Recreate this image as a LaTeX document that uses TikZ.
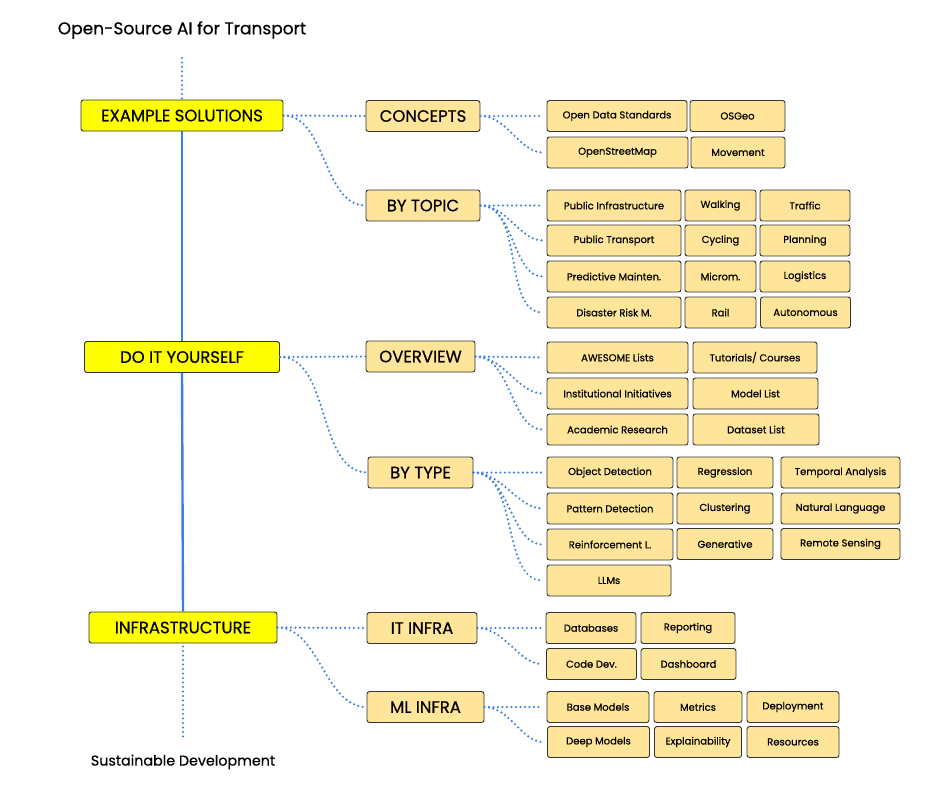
\documentclass[tikz,border=0pt]{standalone}
\usepackage{fontspec}
\setmainfont{Poppins}[FakeBold=0.5]
\usetikzlibrary{positioning}
\definecolor{linkblue}{HTML}{3C7EE6}
\definecolor{mainfill}{HTML}{FFFF00}
\definecolor{subfill}{HTML}{FFE599}
\definecolor{edge}{HTML}{333333}

\begin{document}
\begin{tikzpicture}[
  x=1pt, y=-1pt,
  mainbox/.style={draw=edge, fill=mainfill, rounded corners=2.5pt, line width=0.9pt, align=center, minimum height=31pt, font=\fontsize{16.5}{18}\selectfont, inner sep=0pt},
  subbox/.style={draw=edge, fill=subfill, rounded corners=2.5pt, line width=0.9pt, align=center, minimum height=31pt, font=\fontsize{16.5}{18}\selectfont, inner sep=0pt},
  leaf/.style={draw=edge, fill=subfill, rounded corners=2.5pt, line width=0.9pt, align=center, minimum height=31pt, font=\fontsize{10}{12}\selectfont, inner sep=0pt},
  link/.style={linkblue, line width=2.4pt, line cap=round, dash pattern=on 0pt off 4.5pt},
  curve/.style={link, out=0, in=180, looseness=0.9},
  trunk/.style={linkblue, line width=2.4pt}
]
\useasboundingbox (0,0) rectangle (945,809);

\node (title) at (182,30) {\fontsize{17}{20}\selectfont Open-Source AI for Transport};
\node (goal)  at (183,762) {\fontsize{14.3}{17}\selectfont Sustainable Development};
\coordinate (top) at (182,58);
\coordinate (bottom) at (183,738);

% main column
\node[mainbox, minimum width=202pt] (examples) at (182,115.5) {EXAMPLE SOLUTIONS};
\node[mainbox, minimum width=195pt] (diy)      at (182,357)   {DO IT YOURSELF};
\node[mainbox, minimum width=188pt] (infra)    at (183,627.5) {INFRASTRUCTURE};

\draw[link]  (top) -- (examples.north);
\draw[trunk] (examples.south) -- (diy.north);
\draw[trunk] (diy.south) -- (infra.north);
\draw[link]  (infra.south) ++(0,3) -- (bottom);

% second level
\node[subbox, minimum width=114pt] (concepts) at (423,116)   {CONCEPTS};
\node[subbox, minimum width=114pt] (bytopic)  at (423,205.5) {BY TOPIC};
\node[subbox, minimum width=109pt] (overview) at (420.5,356.5) {OVERVIEW};
\node[subbox, minimum width=105pt] (bytype)   at (420.5,472.5) {BY TYPE};
\node[subbox, minimum width=110pt] (itinfra)  at (422,628)   {IT INFRA};
\node[subbox, minimum width=117pt] (mlinfra)  at (425.5,707) {ML INFRA};

\draw[link]  (examples.east) -- (concepts.west);
\draw[curve] (examples.east) to (bytopic.west);
\draw[link]  (diy.east) -- (overview.west);
\draw[curve] (diy.east) to (bytype.west);
\draw[link]  (infra.east) -- (itinfra.west);
\draw[curve] (infra.east) to (mlinfra.west);

% concepts
\node[leaf, minimum width=140pt] (ods)  at (617,116) {Open Data Standards};
\node[leaf, minimum width=95pt]  (osgeo) at (737.5,116) {OSGeo};
\node[leaf, minimum width=141pt] (osm)  at (617.5,152.5) {OpenStreetMap};
\node[leaf, minimum width=94pt]  (move) at (738,152.5) {Movement};

% by topic
\node[leaf, minimum width=134pt] (pubinfra) at (614,205.5) {Public Infrastructure};
\node[leaf, minimum width=71pt]  (walk)     at (720.5,205.5) {Walking};
\node[leaf, minimum width=90pt]  (traffic)  at (805,205.5) {Traffic};
\node[leaf, minimum width=134pt] (pubtrans) at (614,240.5) {Public Transport};
\node[leaf, minimum width=71pt]  (cycle)    at (720.5,240.5) {Cycling};
\node[leaf, minimum width=90pt]  (plan)     at (805,240.5) {Planning};
\node[leaf, minimum width=134pt] (predict)  at (614,276.5) {Predictive Mainten.};
\node[leaf, minimum width=71pt]  (microm)   at (720.5,276.5) {Microm.};
\node[leaf, minimum width=90pt]  (logist)   at (805,276.5) {Logistics};
\node[leaf, minimum width=134pt] (disaster) at (614,312.5) {Disaster Risk M.};
\node[leaf, minimum width=71pt]  (rail)     at (720.5,312.5) {Rail};
\node[leaf, minimum width=90pt]  (auto)     at (805.5,312.5) {Autonomous};

% overview
\node[leaf, minimum width=141pt] (awesome)  at (617.5,357.5) {AWESOME Lists};
\node[leaf, minimum width=124pt] (tutor)    at (755,357.5) {Tutorials/ Courses};
\node[leaf, minimum width=141pt] (instit)   at (617.5,393.5) {Institutional Initiatives};
\node[leaf, minimum width=125pt] (models)   at (755.5,393.5) {Model List};
\node[leaf, minimum width=141pt] (academic) at (617.5,429.5) {Academic Research};
\node[leaf, minimum width=126pt] (datasets) at (756,429.5) {Dataset List};

% by type
\node[leaf, minimum width=126pt] (objdet)   at (610,472.5) {Object Detection};
\node[leaf, minimum width=96pt]  (regress)  at (725,472.5) {Regression};
\node[leaf, minimum width=119pt] (temporal) at (840.5,472.5) {Temporal Analysis};
\node[leaf, minimum width=126pt] (pattern)  at (610,508.5) {Pattern Detection};
\node[leaf, minimum width=96pt]  (cluster)  at (725,508.5) {Clustering};
\node[leaf, minimum width=119pt] (natlang)  at (840.5,508.5) {Natural Language};
\node[leaf, minimum width=126pt] (reinf)    at (610,544.5) {Reinforcement L.};
\node[leaf, minimum width=96pt]  (generat)  at (725,544) {Generative};
\node[leaf, minimum width=119pt] (remote)   at (840.5,544) {Remote Sensing};
\node[leaf, minimum width=124pt] (llms)     at (609,580.5) {LLMs};

% it infra
\node[leaf, minimum width=90pt] (dbs)     at (591,628) {Databases};
\node[leaf, minimum width=94pt] (report)  at (688,628) {Reporting};
\node[leaf, minimum width=90pt] (codedev) at (591.5,664) {Code Dev.};
\node[leaf, minimum width=95pt] (dash)    at (688.5,664) {Dashboard};

% ml infra
\node[leaf, minimum width=102pt] (base)    at (598,707) {Base Models};
\node[leaf, minimum width=88pt]  (metrics) at (698,707) {Metrics};
\node[leaf, minimum width=92pt]  (deploy)  at (793,707) {Deployment};
\node[leaf, minimum width=102pt] (deep)    at (598.5,742) {Deep Models};
\node[leaf, minimum width=87pt]  (explain) at (698,742) {Explainability};
\node[leaf, minimum width=92pt]  (resour)  at (793,742) {Resources};

% leaf links
\draw[link, shorten >=4pt] (concepts.east) -- (ods.west);
\draw[curve, shorten >=4pt] (concepts.east) to (osm.west);
\draw[link, shorten >=4pt] (bytopic.east) -- (pubinfra.west);
\foreach \n in {pubtrans, predict, disaster}
  \draw[curve, shorten >=4pt] (bytopic.east) to (\n.west);
\draw[link, shorten >=4pt] (overview.east) -- (awesome.west);
\foreach \n in {instit, academic}
  \draw[curve, shorten >=4pt] (overview.east) to (\n.west);
\draw[link, shorten >=4pt] (bytype.east) -- (objdet.west);
\foreach \n in {pattern, reinf, llms}
  \draw[curve, shorten >=4pt] (bytype.east) to (\n.west);
\draw[link, shorten >=4pt] (itinfra.east) -- (dbs.west);
\draw[curve, shorten >=4pt] (itinfra.east) to (codedev.west);
\draw[link, shorten >=4pt] (mlinfra.east) -- (base.west);
\draw[curve, shorten >=4pt] (mlinfra.east) to (deep.west);

\end{tikzpicture}
\end{document}
